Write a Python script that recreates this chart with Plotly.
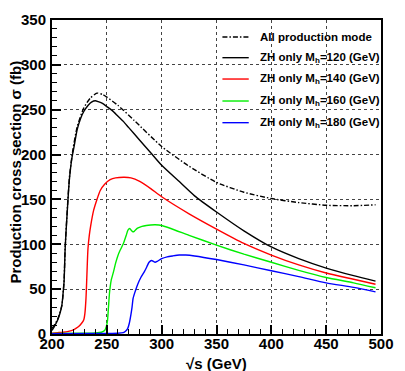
import plotly.graph_objects as go

# Centre-of-mass energy sqrt(s) in GeV and cross sections in fb
x_all = [200, 205, 209, 211, 212, 214, 216, 219, 223, 229, 235, 241, 246, 250, 260,
         275, 300, 325, 350, 375, 400, 425, 450, 475, 495]
y_all = [6, 16, 32, 60, 96, 140, 176, 205, 231, 252, 263, 268.5, 267, 264, 255,
         238, 209, 187, 169, 158, 151, 146.5, 143.5, 143, 144]

x_120 = [200, 202, 205, 207, 209, 210, 211, 212, 213, 214, 215, 216, 218, 220, 223, 226,
         229, 233, 236, 239.6, 242, 246, 250, 255, 260, 265, 270, 280, 290, 300, 315, 330,
         350, 375, 400, 425, 450, 475, 495]
y_120 = [4, 8, 15, 22, 32, 44, 58, 95, 118, 138, 158, 174, 195, 208, 228, 240,
         248, 255, 258.5, 260, 259, 257, 253.5, 249, 243, 237, 230, 216, 202, 188, 171, 154,
         136, 115, 97, 84, 73.5, 65, 59]

x_140 = [200, 205, 210, 215, 220, 224, 227, 229, 230, 231, 231.6, 232.8, 234, 235.2, 238,
         241, 244, 248, 253, 258, 266, 272, 280, 290, 300, 325, 350, 375, 400, 425, 450,
         475, 495]
y_140 = [1, 1.5, 2, 3, 5, 8, 12, 16, 23, 40, 58, 95, 110, 120, 138,
         150, 160, 167, 172, 174, 174.7, 174, 170, 162, 153, 134, 117, 101, 88, 77, 68,
         61, 55.5]

x_160 = [200, 230, 240, 245, 248, 249.5, 250.6, 251.5, 252.3, 253, 254, 256, 258, 260,
         262, 264.8, 266, 267.7, 269, 270, 271, 272, 273.7, 275, 278, 282, 286, 290, 294,
         300, 325, 350, 375, 400, 425, 450, 475, 495]
y_160 = [0.5, 0.8, 1.2, 2, 4, 8, 15, 30, 44, 52, 60, 69, 79, 87,
         93, 100, 104, 110, 115, 117, 117.5, 116, 114, 114.5, 118, 120, 121, 121.5, 121.7,
         121, 110, 99, 89, 80, 71, 63, 57, 51.5]

x_180 = [200, 240, 260, 265, 267, 269, 270.5, 272, 273, 274, 276, 278, 281, 284, 286.5,
         288.5, 290.8, 292.5, 294, 296, 300, 305, 310, 316, 322, 330, 350, 375, 400, 425,
         450, 475, 495]
y_180 = [0.3, 0.5, 0.8, 1.5, 3, 6, 12, 22, 30, 40, 48, 55, 63, 69, 75,
         80, 82, 81, 80, 81, 84, 86, 87, 88, 88, 87, 83, 77, 70.5, 64,
         57, 52, 47]

DASHDOT = "5px,2px,1.5px,2px"

series = [
    ("All production mode", x_all, y_all, "black", DASHDOT),
    ("ZH only M<sub>h</sub>=120 (GeV)", x_120, y_120, "black", "solid"),
    ("ZH only M<sub>h</sub>=140 (GeV)", x_140, y_140, "#ff0000", "solid"),
    ("ZH only M<sub>h</sub>=160 (GeV)", x_160, y_160, "#00ee00", "solid"),
    ("ZH only M<sub>h</sub>=180 (GeV)", x_180, y_180, "#0000ff", "solid"),
]

FONT = "Liberation Sans, Arial, sans-serif"

fig = go.Figure()
for name, xs, ys, col, dash in series:
    fig.add_trace(go.Scatter(
        x=xs, y=ys, mode="lines", name=name,
        line=dict(color=col, width=1.4, dash=dash, shape="spline", smoothing=0.6),
        showlegend=False,
    ))

# Hand-placed legend box in the upper right of the frame
leg_y = [0.946, 0.880, 0.812, 0.742, 0.673]
for (name, _, _, col, dash), ly in zip(series, leg_y):
    fig.add_shape(type="line", xref="paper", yref="paper",
                  x0=0.518, x1=0.598, y0=ly, y1=ly,
                  line=dict(color=col, width=1.4, dash=dash))
    fig.add_annotation(xref="paper", yref="paper", x=0.626, y=ly,
                       text="<b>" + name + "</b>", showarrow=False,
                       xanchor="left", yanchor="middle",
                       font=dict(family=FONT, size=11.5, color="black"))

axis_common = dict(
    showline=True, linecolor="black", linewidth=2, mirror=True,
    ticks="inside", ticklen=9, tickwidth=1.6, tickcolor="black",
    showgrid=True, gridcolor="#444444", gridwidth=1.4, griddash="dot",
    zeroline=False,
    tickfont=dict(family=FONT, size=15, color="black", weight="bold"),
    minor=dict(ticks="inside", ticklen=5, tickwidth=1.3, tickcolor="black",
               dtick=10, showgrid=False),
)

fig.update_xaxes(range=[200, 500], dtick=50, tick0=200, ticklabelstandoff=-5,
                 **axis_common)
fig.update_yaxes(range=[0, 350], dtick=50, tick0=0, ticklabelstandoff=1,
                 **axis_common)

fig.add_annotation(xref="paper", yref="paper", x=0.5, y=0, yshift=-29,
                   text="<b>√s (GeV)</b>", showarrow=False,
                   xanchor="center", yanchor="middle",
                   font=dict(family=FONT, size=15, color="black"))
fig.add_annotation(xref="paper", yref="paper", x=0, y=0.514, xshift=-36,
                   text="<b>Production cross section σ (fb)</b>", showarrow=False,
                   textangle=-90, xanchor="center", yanchor="middle",
                   font=dict(family=FONT, size=15, color="black"))

fig.update_layout(
    width=405, height=371,
    margin=dict(l=52, r=14, t=11, b=37),
    paper_bgcolor="white", plot_bgcolor="white",
    font=dict(family=FONT, color="black"),
)

fig.write_html("out.html")
